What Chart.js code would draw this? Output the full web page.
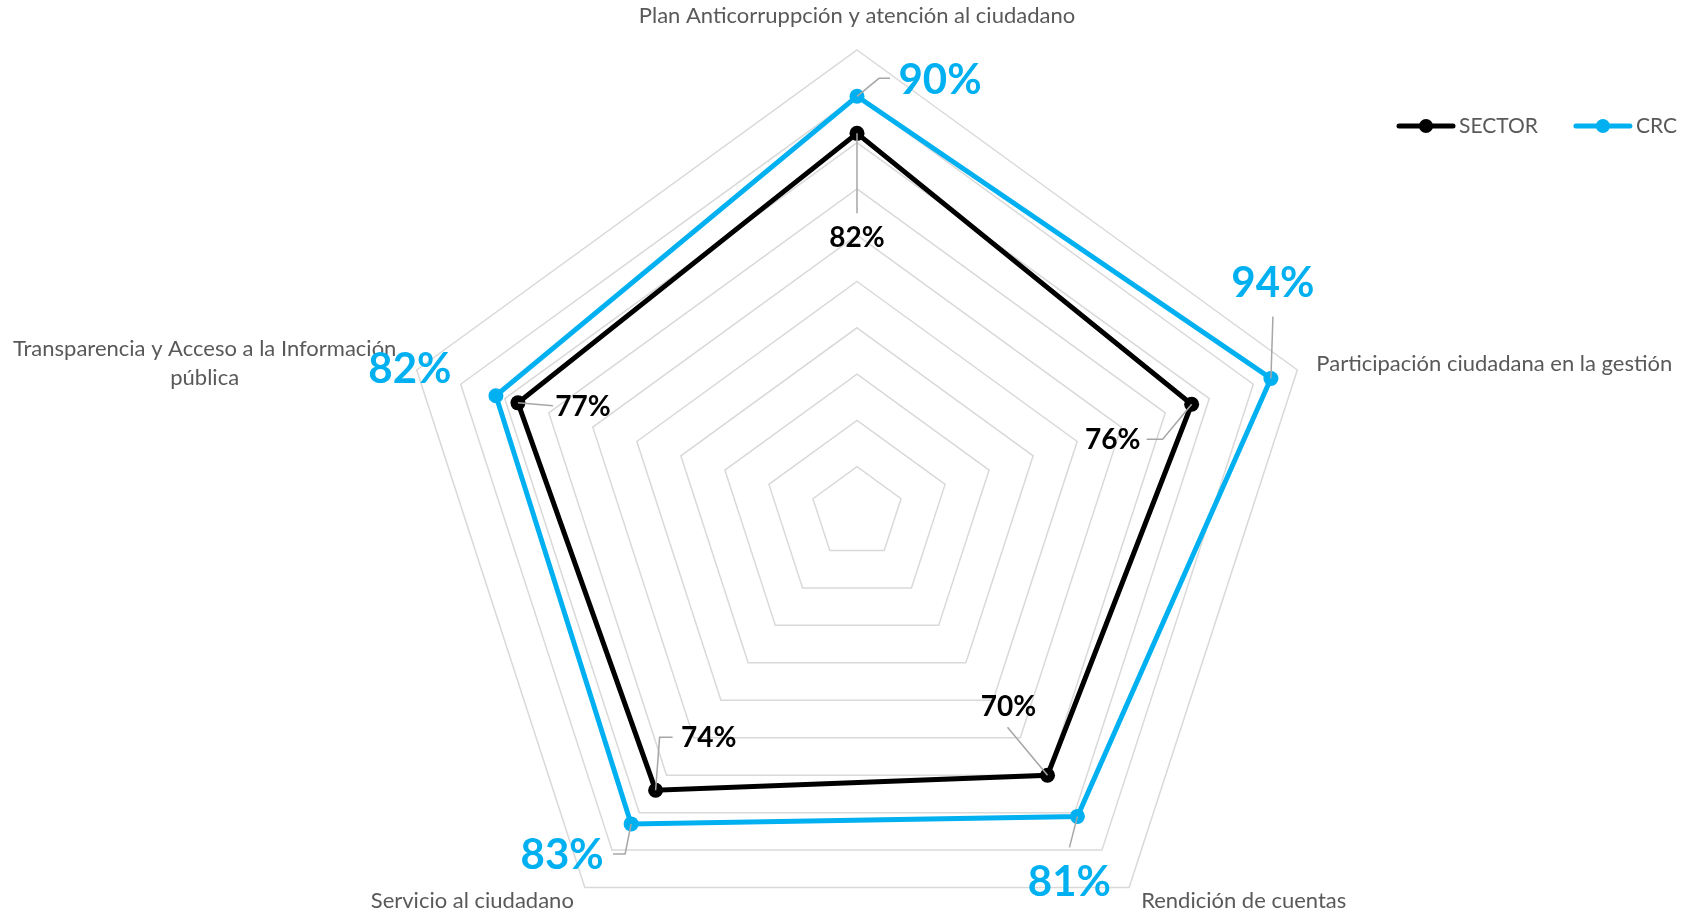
<!DOCTYPE html>
<html>
<head>
<meta charset="utf-8">
<title>Radar</title>
<script src="https://cdn.jsdelivr.net/npm/chart.js@4.4.1/dist/chart.umd.min.js"></script>
<style>
  html, body { margin: 0; padding: 0; background: #fff; overflow: hidden; }
  canvas { display: block; }
</style>
</head>
<body>
<canvas id="radar" width="1698" height="990"></canvas>
<script>
// categories and values of each series (percent)
const categories = [
    'Plan Anticorruppción y atención al ciudadano',
    'Participación ciudadana en la gestión',
    'Rendición de cuentas',
    'Servicio al ciudadano',
    ['Transparencia y Acceso a la Información', 'pública']
];
const sectorValues = [82, 76, 70, 74, 77];
const crcValues = [90, 94, 81, 83, 82];
const seriesNames = ['SECTOR', 'CRC'];
const seriesColors = ['#000000', '#00B0F0'];

const textGray = '#595959';
const leaderGray = '#a6a6a6';
const FONT = 'Lato, "Open Sans", sans-serif';

// where each category name sits, relative to the outer ring vertex
const catOffsets = [
    { dx: 0, dy: -34, align: 'center' },
    { dx: 19, dy: -6, align: 'left' },
    { dx: 12, dy: 13, align: 'left' },
    { dx: -11, dy: 13, align: 'right' },
    { dx: -212, dy: -21, align: 'center' }
];

// value labels: offset of the text from its point, plus the leader line path
const valueLabelStyle = [
    {   // SECTOR
        size: 28,
        spots: [
            { dx: 0, dy: 105, path: [[0, 80]] },
            { dx: -79, dy: 36, path: [[-29, 35], [-45, 35]] },
            { dx: -39, dy: -68, path: [[-40, -48]] },
            { dx: 53, dy: -52, path: [[4, -53], [17, -53]] },
            { dx: 65, dy: 4, path: [[35, 3]] }
        ]
    },
    {   // CRC
        size: 42,
        spots: [
            { dx: 83, dy: -16, path: [[22, -18], [33, -18]] },
            { dx: 2, dy: -95, path: [[2, -62]] },
            { dx: -8, dy: 66, path: [[-8, 31]] },
            { dx: -69, dy: 32, path: [[-6, 30], [-18, 30]] },
            { dx: -86, dy: -26, path: [] }
        ]
    }
];

const radarLabels = {
    id: 'radarLabels',
    afterDatasetsDraw(chart) {
        const ctx = chart.ctx;
        const scale = chart.scales.r;
        ctx.save();

        // category names around the web
        ctx.fillStyle = textGray;
        ctx.font = '22px ' + FONT;
        ctx.textBaseline = 'middle';
        categories.forEach((cat, i) => {
            const p = scale.getPointPositionForValue(i, scale.max);
            const o = catOffsets[i];
            const lines = Array.isArray(cat) ? cat : [cat];
            ctx.textAlign = o.align;
            lines.forEach((line, k) => {
                ctx.fillText(line, p.x + o.dx, p.y + o.dy + k * 29);
            });
        });

        // leader lines + value labels
        chart.data.datasets.forEach((ds, di) => {
            const meta = chart.getDatasetMeta(di);
            const st = valueLabelStyle[di];
            meta.data.forEach((pt, i) => {
                const s = st.spots[i];
                if (s.path.length) {
                    ctx.strokeStyle = leaderGray;
                    ctx.lineWidth = 1.5;
                    ctx.beginPath();
                    ctx.moveTo(pt.x, pt.y);
                    s.path.forEach(([x, y]) => ctx.lineTo(pt.x + x, pt.y + y));
                    ctx.stroke();
                }
                ctx.fillStyle = ds.borderColor;
                ctx.font = 'bold ' + st.size + 'px ' + FONT;
                ctx.textAlign = 'center';
                ctx.textBaseline = 'middle';
                ctx.fillText(ds.data[i] + '%', pt.x + s.dx, pt.y + s.dy);
            });
        });

        // legend: line with a dot, then the series name
        let x = 1399;
        const y = 126;
        ctx.font = '21px ' + FONT;
        ctx.textAlign = 'left';
        chart.data.datasets.forEach((ds) => {
            ctx.strokeStyle = ds.borderColor;
            ctx.lineWidth = 5;
            ctx.lineCap = 'round';
            ctx.beginPath();
            ctx.moveTo(x, y);
            ctx.lineTo(x + 54, y);
            ctx.stroke();
            ctx.fillStyle = ds.borderColor;
            ctx.beginPath();
            ctx.arc(x + 27, y, 7, 0, Math.PI * 2);
            ctx.fill();
            ctx.fillStyle = textGray;
            ctx.fillText(ds.label, x + 60, y);
            x += 60 + ctx.measureText(ds.label).width + 38;
        });

        ctx.restore();
    }
};

const ctx = document.getElementById('radar').getContext('2d');
const chart = new Chart(ctx, {
    type: 'radar',
    data: {
        labels: categories,
        datasets: [
            {
                label: seriesNames[0],
                data: sectorValues,
                borderColor: seriesColors[0],
                backgroundColor: seriesColors[0],
                pointBackgroundColor: seriesColors[0],
                order: 1
            },
            {
                label: seriesNames[1],
                data: crcValues,
                borderColor: seriesColors[1],
                backgroundColor: seriesColors[1],
                pointBackgroundColor: seriesColors[1],
                order: 0
            }
        ]
    },
    options: {
        responsive: false,
        animation: false,
        layout: { padding: { top: 50, bottom: 14, left: 16, right: 0 } },
        elements: {
            line: { borderWidth: 5, fill: false, tension: 0, borderJoinStyle: 'miter' },
            point: { radius: 7.5, borderWidth: 0, hoverRadius: 7.5 }
        },
        plugins: {
            legend: { display: false },
            tooltip: { enabled: false }
        },
        scales: {
            r: {
                min: 0,
                max: 100,
                ticks: { display: false, stepSize: 10 },
                grid: { color: '#d9d9d9', lineWidth: 1.5 },
                angleLines: { display: false },
                pointLabels: { display: false }
            }
        }
    },
    plugins: [radarLabels]
});
</script>
</body>
</html>
